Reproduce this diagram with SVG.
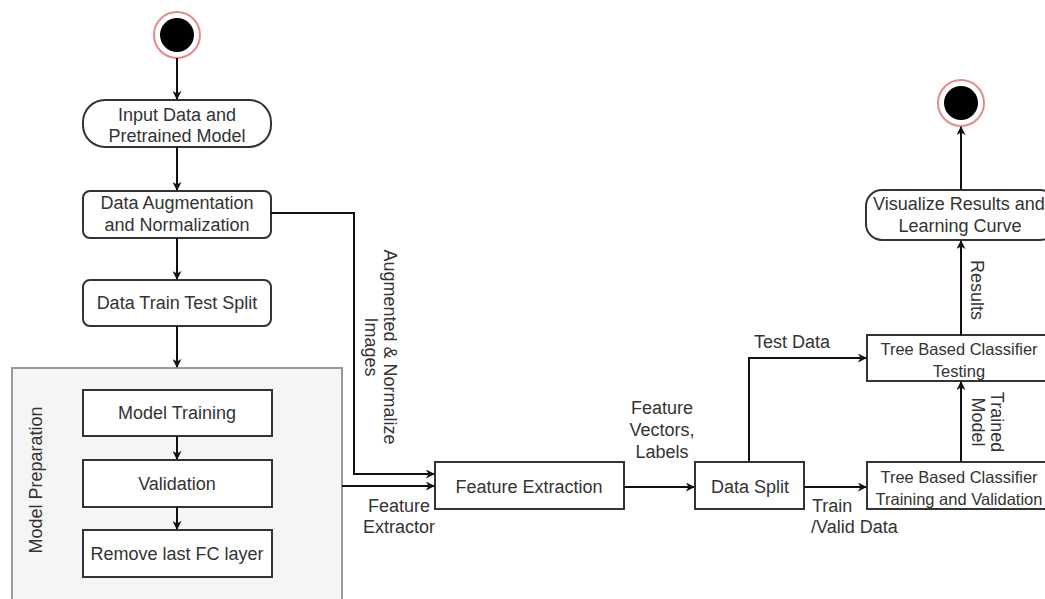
<svg xmlns="http://www.w3.org/2000/svg" width="1045" height="599" viewBox="0 0 1045 599">
<defs>
<marker id="arr" viewBox="0 0 10 10" refX="9" refY="5" markerWidth="9" markerHeight="9" markerUnits="userSpaceOnUse" orient="auto">
<path d="M0,0 L10,5 L0,10 L3,5 Z" fill="#111"/>
</marker>
</defs>
<style>
text{font-family:"Liberation Sans",Arial,sans-serif;font-size:18px;fill:#333;text-anchor:middle;dominant-baseline:central}
.box{fill:#fff;stroke:#333;stroke-width:2}
.sm{font-size:16.5px}
.edge{fill:none;stroke:#111;stroke-width:2;marker-end:url(#arr)}
.ring{fill:#fff;stroke:#e58a8a;stroke-width:2}
.dot{fill:#000}
</style>
<rect width="1045" height="599" fill="#fff"/>

<g id="model-preparation">
<rect x="12" y="368" width="330" height="260" fill="#f5f5f5" stroke="#999" stroke-width="2"/>
<text transform="rotate(-90 36 480)" x="36" y="480">Model Preparation</text>
</g>

<g id="start">
<circle cx="177" cy="35" r="23" class="ring"/>
<circle cx="177" cy="35" r="17" class="dot"/>
</g>

<g id="input-data">
<rect x="83" y="100" width="188" height="47" rx="22" class="box"/>
<text x="177" y="115">Input Data and</text>
<text x="177" y="136">Pretrained Model</text>
</g>

<g id="augmentation">
<rect x="83" y="191" width="188" height="47" rx="7" class="box"/>
<text x="177" y="203">Data Augmentation</text>
<text x="177" y="225">and Normalization</text>
</g>

<g id="train-test-split">
<rect x="83" y="280" width="188" height="46" rx="7" class="box"/>
<text x="177" y="303">Data Train Test Split</text>
</g>

<g id="model-training">
<rect x="83" y="390" width="189" height="46" class="box"/>
<text x="177" y="413">Model Training</text>
</g>

<g id="validation">
<rect x="83" y="460" width="189" height="47" class="box"/>
<text x="177" y="484">Validation</text>
</g>

<g id="remove-fc">
<rect x="83" y="530" width="189" height="47" class="box"/>
<text x="177" y="554">Remove last FC layer</text>
</g>

<g id="feature-extraction">
<rect x="435" y="462" width="189" height="47" class="box"/>
<text x="529" y="487">Feature Extraction</text>
</g>

<g id="data-split">
<rect x="695" y="462" width="109" height="47" class="box"/>
<text x="750" y="487">Data Split</text>
</g>

<g id="tree-training">
<rect x="867" y="462" width="184" height="47" class="box"/>
<text class="sm" x="959" y="477">Tree Based Classifier</text>
<text class="sm" x="959" y="499">Training and Validation</text>
</g>

<g id="tree-testing">
<rect x="867" y="335" width="184" height="46" class="box"/>
<text class="sm" x="959" y="349">Tree Based Classifier</text>
<text class="sm" x="959" y="371">Testing</text>
</g>

<g id="visualize">
<rect x="866" y="190" width="190" height="50" rx="16" class="box"/>
<text x="959" y="204">Visualize Results and</text>
<text x="960" y="226">Learning Curve</text>
</g>

<g id="end">
<circle cx="961" cy="103" r="23" class="ring"/>
<circle cx="961" cy="103" r="17" class="dot"/>
</g>

<g id="connectors">
<path class="edge" d="M177,58 V99"/>
<path class="edge" d="M177,147 V190"/>
<path class="edge" d="M177,238 V279"/>
<path class="edge" d="M177,326 V367"/>
<path class="edge" d="M177,436 V459"/>
<path class="edge" d="M177,507 V529"/>
<path class="edge" d="M271,213 H354 V474 H434"/>
<path class="edge" d="M342,486 H434"/>
<path class="edge" d="M624,487 H694"/>
<path class="edge" d="M804,487 H866"/>
<path class="edge" d="M749,462 V358 H866"/>
<path class="edge" d="M961,462 V382"/>
<path class="edge" d="M961,335 V241"/>
<path class="edge" d="M961,190 V127"/>
</g>

<g id="labels">
<text transform="rotate(90 390 347)" x="390" y="347">Augmented &amp; Normalize</text>
<text transform="rotate(90 371 347)" x="371" y="347">Images</text>
<text x="399" y="506">Feature</text>
<text x="399" y="527">Extractor</text>
<text x="662" y="408">Feature</text>
<text x="662" y="430">Vectors,</text>
<text x="662" y="452">Labels</text>
<text x="792" y="342">Test Data</text>
<text x="812" y="506" style="text-anchor:start">Train</text>
<text x="811" y="527" style="text-anchor:start">/Valid Data</text>
<text transform="rotate(90 997 422)" x="997" y="422">Trained</text>
<text transform="rotate(90 978 422)" x="978" y="422">Model</text>
<text transform="rotate(90 977 290)" x="977" y="290">Results</text>
</g>
</svg>
